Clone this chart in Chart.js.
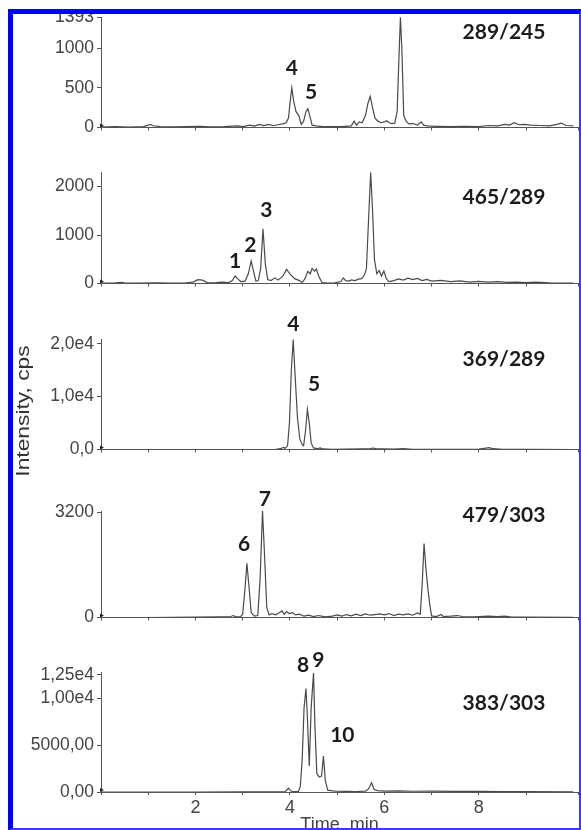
<!DOCTYPE html>
<html>
<head>
<meta charset="utf-8">
<script src="https://cdn.jsdelivr.net/npm/chart.js@4.4.0/dist/chart.umd.min.js"></script>
<style>
  html, body { margin: 0; padding: 0; background: #fff; }
  body { width: 581px; height: 830px; position: relative; overflow: hidden; }
  canvas { position: absolute; left: 0; }
  #frame {
    position: absolute; left: 8px; top: 9px; width: 573px; height: 821px;
    box-sizing: border-box; pointer-events: none; z-index: 5;
    border-left: 5px solid #0000ff; border-top: 5px solid #0000ff;
    border-right: 2px solid #3a3aff; border-bottom: 2px solid #3a3aff;
  }
  #ylabel {
    position: absolute; left: 23px; top: 411px; white-space: nowrap;
    font-family: "Liberation Sans", Arial, sans-serif; font-size: 19px; color: #333;
    transform: translate(-50%, -50%) rotate(-90deg) scaleX(1.2);
    z-index: 4;
  }
</style>
</head>
<body>
<div id="ylabel">Intensity, cps</div>
<div id="frame"></div>
<script>
// time (min), intensity (cps)
const trace289_245 = [[0,5],[0.3,10],[0.6,5],[0.9,12],[1.0,30],[1.05,40],[1.1,22],[1.25,10],[1.5,8],[1.8,12],
  [2.1,15],[2.3,8],[2.6,12],[2.9,20],[3.0,10],[3.15,30],[3.25,18],[3.35,40],[3.45,25],[3.55,38],[3.65,22],
  [3.75,35],[3.85,45],[3.92,60],[3.97,120],[4.0,300],[4.04,500],[4.08,330],[4.13,200],[4.19,150],[4.24,40],
  [4.29,80],[4.34,200],[4.38,238],[4.42,150],[4.47,30],[4.55,20],[4.7,12],[4.9,10],[5.1,12],[5.3,20],
  [5.36,80],[5.41,30],[5.47,70],[5.53,60],[5.6,150],[5.65,300],[5.7,393],[5.75,250],[5.8,120],[5.86,80],
  [5.93,60],[6.0,70],[6.05,85],[6.1,60],[6.16,50],[6.22,55],[6.27,200],[6.31,900],[6.34,1390],[6.37,1000],
  [6.41,150],[6.46,80],[6.52,45],[6.6,50],[6.7,30],[6.78,70],[6.83,30],[6.9,20],[7.1,15],[7.4,10],[7.7,15],
  [8.0,10],[8.2,25],[8.4,20],[8.55,40],[8.65,30],[8.75,60],[8.85,35],[8.95,40],[9.1,30],[9.3,25],[9.5,20],
  [9.65,40],[9.75,55],[9.85,25],[10.0,20]];
const trace465_289 = [[0,10],[0.3,12],[0.45,25],[0.5,10],[0.8,10],[1.2,12],[1.5,10],[1.8,15],[1.95,30],
  [2.05,80],[2.15,70],[2.25,20],[2.4,15],[2.55,30],[2.7,20],[2.78,60],[2.84,155],[2.9,90],[2.96,40],[3.05,50],
  [3.12,200],[3.18,466],[3.23,250],[3.28,50],[3.33,60],[3.38,300],[3.43,1126],[3.48,400],[3.53,80],[3.6,60],
  [3.68,116],[3.75,70],[3.85,150],[3.93,290],[4.0,200],[4.1,100],[4.2,60],[4.26,20],[4.32,100],[4.38,250],
  [4.43,200],[4.47,310],[4.52,250],[4.56,300],[4.61,150],[4.68,20],[4.8,10],[4.95,12],[5.08,40],[5.13,116],
  [5.18,60],[5.25,50],[5.3,75],[5.38,60],[5.45,90],[5.52,100],[5.58,180],[5.62,310],[5.66,1200],[5.71,2290],
  [5.75,1500],[5.79,500],[5.84,200],[5.89,270],[5.94,150],[5.99,260],[6.04,100],[6.1,40],[6.2,60],[6.3,95],
  [6.4,70],[6.5,110],[6.6,80],[6.7,105],[6.8,60],[6.9,85],[7.0,50],[7.2,65],[7.4,40],[7.6,55],[7.8,30],
  [8.0,45],[8.2,30],[8.4,40],[8.6,25],[8.8,30],[9.0,20],[9.2,30],[9.5,15],[10.0,10]];
const trace369_289 = [[0,0],[1,0],[2,0],[3,0],[3.7,50],[3.8,150],[3.86,400],[3.9,250],[3.95,700],[3.99,5000],
  [4.03,15000],[4.07,20800],[4.11,14000],[4.16,6000],[4.21,2000],[4.26,900],[4.29,700],[4.33,3500],[4.37,7600],
  [4.41,5000],[4.45,1200],[4.5,300],[4.58,150],[4.64,300],[4.7,100],[4.9,50],[5.2,80],[5.5,100],[5.7,150],
  [5.76,280],[5.82,150],[6.0,100],[6.2,80],[6.4,150],[6.6,50],[7.0,50],[7.5,40],[8.0,60],[8.15,250],
  [8.22,350],[8.3,150],[8.5,30],[9.0,20],[10.0,0]];
const trace479_303 = [[0,0],[1,0],[2,10],[2.5,20],[2.75,30],[2.8,60],[2.86,20],[2.95,20],[3.0,100],[3.05,900],
  [3.09,1657],[3.13,1000],[3.18,150],[3.25,40],[3.32,60],[3.37,1200],[3.42,3250],[3.46,2000],[3.51,300],
  [3.56,80],[3.62,120],[3.7,80],[3.78,150],[3.83,200],[3.88,100],[3.93,180],[3.98,120],[4.05,150],[4.12,80],
  [4.2,100],[4.3,40],[4.4,70],[4.5,30],[4.6,60],[4.75,20],[4.9,40],[5.0,80],[5.1,40],[5.2,90],[5.3,50],
  [5.4,100],[5.5,60],[5.6,110],[5.7,70],[5.8,90],[5.9,110],[6.0,80],[6.1,120],[6.2,60],[6.3,100],[6.4,80],
  [6.5,110],[6.6,70],[6.7,140],[6.76,100],[6.8,1000],[6.84,2257],[6.88,1500],[6.92,900],[6.96,400],[7.0,50],
  [7.1,30],[7.2,90],[7.25,30],[7.4,40],[7.55,60],[7.65,30],[7.9,20],[8.2,40],[8.4,30],[8.55,40],[8.7,15],
  [9.0,10],[10.0,5]];
const trace383_303 = [[0,0],[1,0],[2,0],[3,10],[3.5,10],[3.9,30],[3.97,400],[4.02,100],[4.1,30],[4.18,60],
  [4.22,600],[4.26,3500],[4.3,9000],[4.34,11030],[4.37,8000],[4.41,2770],[4.45,9000],[4.5,12700],[4.53,7000],
  [4.57,2000],[4.62,1600],[4.67,1700],[4.71,3830],[4.75,1200],[4.8,200],[4.9,120],[5.0,80],[5.2,60],[5.4,50],
  [5.6,100],[5.66,300],[5.73,990],[5.78,300],[5.85,150],[6.0,100],[6.3,130],[6.6,80],[7.0,100],[7.5,60],
  [8.0,80],[8.5,40],[9.0,30],[10.0,20]];

const transitions = ["289/245", "465/289", "369/289", "479/303", "383/303"];
const traces = [trace289_245, trace465_289, trace369_289, trace479_303, trace383_303];

// y tick values and their printed labels
const yTicks = [[0, 500, 1000, 1393], [0, 1000, 2000], [0, 10000, 20000], [0, 3200], [0, 5000, 10000, 12500]];
const yTickLabels = [["0", "500", "1000", "1393"], ["0", "1000", "2000"], ["0,0", "1,0e4", "2,0e4"],
  ["0", "3200"], ["0,00", "5000,00", "1,00e4", "1,25e4"]];
const yMax = [1393, 2300, 20900, 3250, 12800];
const xTickLabels = ["2", "4", "6", "8"];

// peak numbers: [label, time, intensity]
const peaks = [
  [["4", 4.04, 744], ["5", 4.45, 449]],
  [["1", 2.84, 466], ["2", 3.16, 796], ["3", 3.5, 1515]],
  [["4", 4.07, 23700], ["5", 4.51, 12390]],
  [["6", 3.03, 2230], ["7", 3.47, 3600]],
  [["8", 4.28, 13510], ["9", 4.6, 14040], ["10", 5.11, 6060]]
];

// page layout of each panel: pixel row of the axis top and of zero
const layout = [
  { top: 17, zero: 135, titleDy: 15 },
  { top: 172, zero: 291, titleDy: 25 },
  { top: 339, zero: 457, titleDy: 20 },
  { top: 511, zero: 625, titleDy: 4 },
  { top: 672, zero: 792, titleDy: 31 }
];
const padTop = 30;

Chart.defaults.font.family = '"Liberation Sans", Arial, sans-serif';
Chart.defaults.color = "#444";

const labelPlugin = {
  id: "peakLabels",
  afterDatasetsDraw(chart, args, opts) {
    const { ctx, chartArea } = chart;
    const x = chart.scales.x, y = chart.scales.y;
    ctx.save();
    // small marker at the origin of each trace
    const ox = x.getPixelForValue(0), oy = y.getPixelForValue(0);
    ctx.fillStyle = "#222";
    ctx.beginPath();
    ctx.moveTo(ox - 1, oy - 4);
    ctx.lineTo(ox + 3, oy - 2);
    ctx.lineTo(ox - 1, oy);
    ctx.closePath();
    ctx.fill();

    ctx.font = "bold 21px Lato";
    ctx.fillStyle = "#1c1c1c";
    ctx.textAlign = "center";
    ctx.textBaseline = "middle";
    opts.peaks.forEach(p => ctx.fillText(p[0], x.getPixelForValue(p[1]), y.getPixelForValue(p[2])));
    ctx.fillText(opts.title, chartArea.right - 74, chartArea.top + opts.titleDy);
    ctx.restore();
  }
};

traces.forEach((trace, i) => {
  const L = layout[i];
  const last = i === traces.length - 1;
  const xH = last ? 45 : 6;
  const canvas = document.createElement("canvas");
  canvas.width = 581;
  canvas.height = padTop + (L.zero - L.top) + xH;
  canvas.style.top = (L.top - padTop) + "px";
  document.body.appendChild(canvas);

  new Chart(canvas.getContext("2d"), {
    type: "line",
    data: {
      datasets: [{
        data: trace.map(p => ({ x: p[0], y: p[1] })),
        borderColor: "#4a4a4a",
        borderWidth: 1.2,
        pointRadius: 0,
        tension: 0,
        fill: false
      }]
    },
    options: {
      responsive: false,
      animation: false,
      events: [],
      layout: { padding: { top: padTop, right: 3, left: 0, bottom: 0 } },
      plugins: {
        legend: { display: false },
        tooltip: { enabled: false },
        peakLabels: { peaks: peaks[i], title: transitions[i], titleDy: L.titleDy }
      },
      scales: {
        x: {
          type: "linear",
          min: 0,
          max: 10.1,
          grid: { drawOnChartArea: false, color: "#555", tickLength: 3 },
          border: { color: "#555", width: 1 },
          ticks: {
            display: last,
            stepSize: 1,
            padding: 2,
            font: { size: 18 },
            color: "#444",
            maxRotation: 0,
            callback: v => (xTickLabels.includes(String(v)) ? String(v) : "")
          },
          title: {
            display: last,
            text: "Time, min",
            font: { size: 18 },
            color: "#444",
            padding: { top: 0, bottom: 1 }
          },
          afterFit: s => { s.height = xH; }
        },
        y: {
          min: 0,
          max: yMax[i],
          grid: { drawOnChartArea: false, color: "#555", tickLength: 4 },
          border: { color: "#555", width: 1 },
          afterBuildTicks: s => { s.ticks = yTicks[i].map(v => ({ value: v })); },
          ticks: {
            padding: 3,
            font: { size: 17.5 },
            color: "#444",
            callback: (v, idx) => yTickLabels[i][idx]
          },
          afterFit: s => { s.width = 101; }
        }
      }
    },
    plugins: [labelPlugin]
  });
});
</script>
</body>
</html>
